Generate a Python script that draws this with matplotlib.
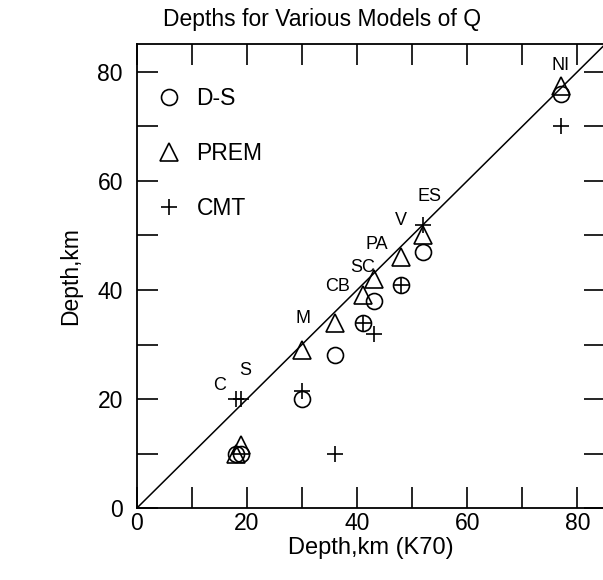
import matplotlib.pyplot as plt
from matplotlib.ticker import MultipleLocator

plt.rcParams['font.family'] = ['Liberation Sans', 'DejaVu Sans']

# D-S model
ds_x = [18, 19, 30, 36, 41, 43, 48, 52, 77]
ds_y = [10, 10, 20, 28, 34, 38, 41, 47, 76]
# PREM model
prem_x = [18, 19, 30, 36, 41, 43, 48, 52, 77]
prem_y = [10, 11.5, 29, 34, 39, 42, 46, 50, 77.5]
# CMT
cmt_x = [18, 19, 30, 36, 41, 43, 48, 52, 77]
cmt_y = [20, 20, 21.5, 10, 34, 32, 41, 52, 70]

# region labels
site_names = ['C', 'S', 'M', 'CB', 'SC', 'PA', 'V', 'ES', 'NI']
site_x = [15.1, 19.6, 30.2, 36.4, 41.0, 43.6, 48.0, 53.2, 77.0]
site_y = [22.4, 25.3, 34.7, 40.6, 44.2, 48.4, 52.8, 57.2, 81.2]

fig = plt.figure(figsize=(6.03, 5.80), dpi=100)
ax = fig.add_axes([0.227, 0.124, 0.776, 0.800])

ax.plot([0, 85], [0, 85], color='black', lw=1.1)

ax.plot(ds_x, ds_y, ls='none', marker='o', ms=11.5, mfc='none', mec='black', mew=1.2, label='D-S')
ax.plot(prem_x, prem_y, ls='none', marker='^', ms=13, mfc='none', mec='black', mew=1.2, label='PREM')
ax.plot(cmt_x, cmt_y, ls='none', marker='+', ms=11, color='black', mew=1.2, label='CMT')

for name, x, y in zip(site_names, site_x, site_y):
    ax.text(x, y, name, fontsize=13, ha='center', va='center')

ax.set_xlim(0, 85)
ax.set_ylim(0, 85.1)
ax.xaxis.set_major_locator(MultipleLocator(20))
ax.xaxis.set_minor_locator(MultipleLocator(10))
ax.yaxis.set_major_locator(MultipleLocator(20))
ax.yaxis.set_minor_locator(MultipleLocator(10))
ax.tick_params(which='both', direction='in', top=True, right=True, length=15, width=1.2, labelsize=16.5)
ax.tick_params(axis='x', pad=3)
ax.tick_params(axis='y', pad=10)
for s in ax.spines.values():
    s.set_linewidth(1.3)

leg = ax.legend(loc='upper left', bbox_to_anchor=(0.0, 0.952), frameon=False, fontsize=16.5,
                labelspacing=1.4, handlelength=1.0, handletextpad=0.7, numpoints=1)

fig.text(0.534, 1 - 26 / 580, 'Depths for Various Models of Q', fontsize=16.5, ha='center', va='baseline')
ax.set_xlabel('Depth,km (K70)', fontsize=17, labelpad=1)
ax.set_ylabel('Depth,km', fontsize=16.5, labelpad=11)

fig.savefig('out.png', dpi=100)
